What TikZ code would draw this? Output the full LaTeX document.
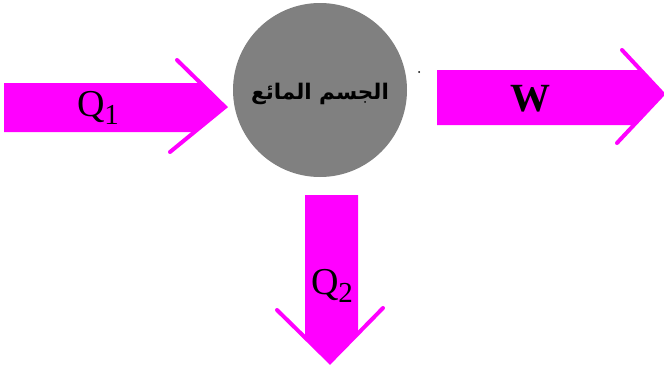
\documentclass[tikz,border=0pt]{standalone}
\usepackage{fontspec}
\setmainfont{Liberation Serif}
\newfontfamily\arabicfont[Script=Arabic]{DejaVu Sans}
\TeXXeTstate=1
\definecolor{mag}{RGB}{255,0,255}
\definecolor{bodygray}{RGB}{128,128,128}
\newcommand{\qsub}[1]{Q\raisebox{-0.22em}{\fontsize{29}{30}\selectfont #1}}
\tikzset{
  arrbody/.style={fill=mag, draw=none},
  barb/.style={draw=mag, line width=4pt, line cap=round},
  lbl/.style={font=\fontsize{38}{42}\selectfont, inner sep=0pt}
}
\begin{document}
\begin{tikzpicture}[x=1pt,y=-1pt]
\useasboundingbox (0,0) rectangle (664,372);
% Q1 arrow
\fill[arrbody] (4,83) -- (200,83) -- (225,107) -- (194,132) -- (4,132) -- cycle;
\coordinate (q1tip) at (225,107);
\coordinate (q1a) at (177,60);
\coordinate (q1b) at (170,152);
\draw[barb] (q1a) -- (q1tip) -- (q1b);
% W arrow
\fill[arrbody] (437,70) -- (641,70) -- (663,94) -- (634,125) -- (437,125) -- cycle;
\coordinate (wtip) at (663,94);
\coordinate (wa) at (622,50);
\coordinate (wb) at (617,143);
\draw[barb] (wa) -- (wtip) -- (wb);
% Q2 arrow
\fill[arrbody] (305,195) -- (358,195) -- (358,333) -- (330,362) -- (305,337) -- cycle;
\coordinate (q2tip) at (330,362);
\coordinate (q2a) at (277,310);
\coordinate (q2b) at (383,308);
\draw[barb] (q2a) -- (q2tip) -- (q2b);
% body circle
\node[circle, fill=bodygray, minimum size=174pt, inner sep=0pt] (body) at (320,90) {};
\node[inner sep=0pt, font=\arabicfont\bfseries\fontsize{21.5}{24}\selectfont] (bodylbl) at (320,94) {\beginR الجسم المائع\endR};
\fill (419,72) circle (1pt);
% labels
\node[lbl] (q1) at (98,108) {\qsub{1}};
\node[lbl, font=\bfseries\fontsize{40}{44}\selectfont] (w) at (530,99) {W};
\node[lbl] (q2) at (332,286) {\qsub{2}};
\end{tikzpicture}
\end{document}
